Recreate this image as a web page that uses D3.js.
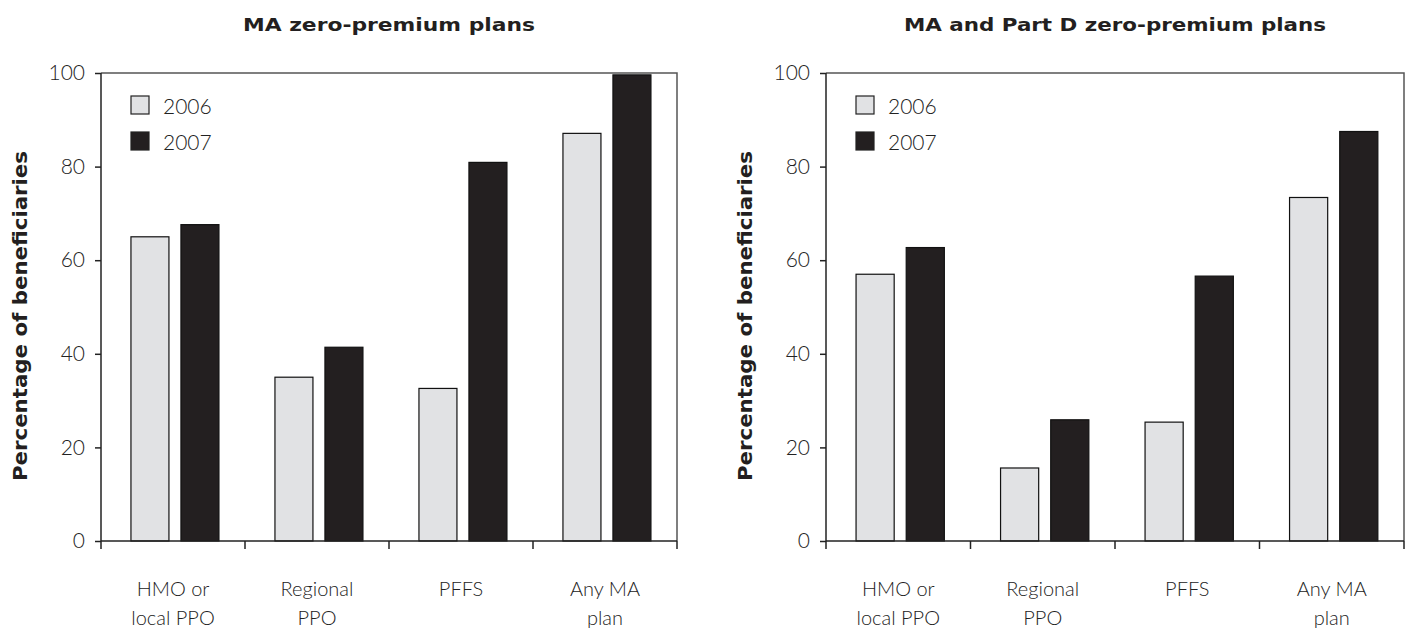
<!DOCTYPE html>
<html><head><meta charset="utf-8">
<script src="https://cdn.jsdelivr.net/npm/d3@7"></script>
<style>
body{margin:0;background:#fff;}
svg{display:block;}
</style></head>
<body><svg id="c" width="1410" height="630"></svg>
<script>
const categories = ["HMO or|local PPO", "Regional|PPO", "PFFS", "Any MA|plan"];
const years = ["2006", "2007"];
const maValues2006 = [65.0, 35.0, 32.6, 87.1];
const maValues2007 = [67.6, 41.4, 80.9, 99.6];
const partDValues2006 = [57.0, 15.6, 25.4, 73.4];
const partDValues2007 = [62.7, 25.9, 56.6, 87.5];
const yTicks = [0, 20, 40, 60, 80, 100];
const titles = ["MA zero-premium plans", "MA and Part D zero-premium plans"];
const yTitle = "Percentage of beneficiaries";
const colors = {"2006": "#e1e2e4", "2007": "#231f20"};

(function(){
const svg = d3.select("#c");
const panels = [
  {title: titles[0], titleLen: 292, s2006: maValues2006, s2007: maValues2007, x0: 101, x1: 677, yTitleX: 27},
  {title: titles[1], titleLen: 422, s2006: partDValues2006, s2007: partDValues2007, x0: 826, x1: 1404, yTitleX: 752}
];
const plotTop = 73, plotBottom = 541;
const lightFont = "'Lato', 'Open Sans', sans-serif";
const boldFont = "'DejaVu Sans', 'Open Sans', sans-serif";

panels.forEach(p => {
  const g = svg.append("g");
  const y = d3.scaleLinear().domain([0, 100]).range([plotBottom, plotTop]);
  const x = d3.scaleBand().domain(categories).range([p.x0, p.x1]).padding(0);
  const bw = x.bandwidth();
  const xs = d3.scaleBand().domain(years).range([bw * 0.208, bw * 0.819]).paddingInner(0.24);

  g.append("path")
    .attr("d", `M${p.x0},${plotTop}H${p.x1}V${plotBottom}`)
    .attr("fill", "none").attr("stroke", "#555").attr("stroke-width", 1.5);

  const rows = categories.map((c, i) => ({cat: c, "2006": p.s2006[i], "2007": p.s2007[i]}));
  rows.forEach(r => {
    years.forEach(yr => {
      g.append("rect")
        .attr("x", x(r.cat) + xs(yr))
        .attr("y", y(r[yr]))
        .attr("width", xs.bandwidth())
        .attr("height", y(0) - y(r[yr]))
        .attr("fill", colors[yr])
        .attr("stroke", "#111").attr("stroke-width", 1.2);
    });
  });

  const ya = g.append("g").attr("transform", `translate(${p.x0},0)`)
    .call(d3.axisLeft(y).tickValues(yTicks).tickSize(6).tickPadding(10).tickFormat(d3.format("d")));
  ya.select(".domain").attr("stroke", "#222").attr("stroke-width", 1.5).attr("d", `M0,${plotTop}V${plotBottom}`);
  ya.selectAll(".tick line").attr("stroke", "#222").attr("stroke-width", 1.5);
  ya.selectAll(".tick text").attr("font-family", lightFont).attr("font-weight", 300)
    .attr("font-size", 21).attr("fill", "#222");

  const boundaries = categories.map(c => x(c)).concat([p.x1]);
  const xa = g.append("g").attr("transform", `translate(0,${plotBottom})`);
  xa.append("path").attr("d", `M${p.x0},0H${p.x1}`).attr("stroke", "#222").attr("stroke-width", 1.5);
  xa.selectAll("line.b").data(boundaries).join("line").attr("class", "b")
    .attr("x1", d => d).attr("x2", d => d).attr("y1", 0).attr("y2", 8)
    .attr("stroke", "#222").attr("stroke-width", 1.5);
  const lbl = xa.selectAll("text.c").data(categories).join("text").attr("class", "c")
    .attr("text-anchor", "middle")
    .attr("font-family", lightFont).attr("font-weight", 300).attr("font-size", 20).attr("fill", "#222");
  lbl.each(function(d) {
    const t = d3.select(this);
    d.split("|").forEach((line, i) => {
      t.append("tspan").attr("x", x(d) + bw / 2).attr("y", 55 + i * 29).text(line);
    });
  });

  g.append("text").attr("x", (p.x0 + p.x1) / 2).attr("y", 31)
    .attr("text-anchor", "middle")
    .attr("font-family", boldFont).attr("font-weight", 700)
    .attr("font-size", 18).attr("fill", "#231f20")
    .attr("textLength", p.titleLen).attr("lengthAdjust", "spacingAndGlyphs")
    .text(p.title);

  g.append("text").attr("transform", `translate(${p.yTitleX},${316}) rotate(-90)`)
    .attr("text-anchor", "middle")
    .attr("font-family", boldFont).attr("font-weight", 700)
    .attr("font-size", 19).attr("fill", "#231f20")
    .attr("textLength", 330).attr("lengthAdjust", "spacingAndGlyphs")
    .text(yTitle);

  const lg = g.append("g").attr("transform", `translate(${p.x0 + 30},96)`);
  years.forEach((yr, i) => {
    lg.append("rect").attr("x", 0).attr("y", i * 36).attr("width", 18).attr("height", 18)
      .attr("fill", colors[yr]).attr("stroke", "#222").attr("stroke-width", 1.2);
    lg.append("text").attr("x", 32).attr("y", i * 36 + 18)
      .attr("font-family", lightFont).attr("font-weight", 300).attr("font-size", 21)
      .attr("fill", "#222").text(yr);
  });
});
})();
</script>
</body></html>
